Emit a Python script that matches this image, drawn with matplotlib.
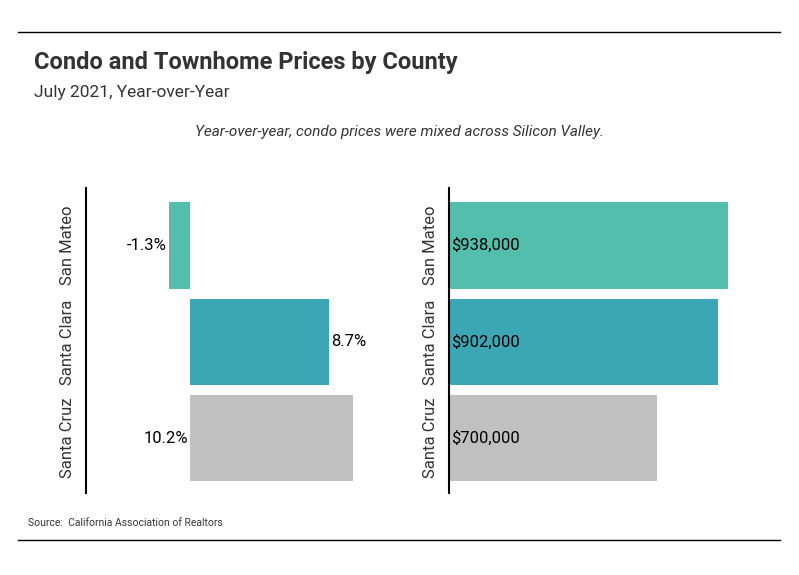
import matplotlib.pyplot as plt
from matplotlib.lines import Line2D

counties = ["San Mateo", "Santa Clara", "Santa Cruz"]
yoy_change = [-1.3, 8.7, 10.2]
median_price = [938000, 902000, 700000]
yoy_labels = ["-1.3%", "8.7%", "10.2%"]
price_labels = ["$938,000", "$902,000", "$700,000"]
colors = ["#52BEAB", "#3BA7B4", "#C0C0C0"]

plt.rcParams["font.family"] = ["Liberation Sans Narrow", "Roboto", "DejaVu Sans"]

W, H = 799, 575
fig = plt.figure(figsize=(W / 100, H / 100), dpi=100)

def frac(x0, y0, x1, y1):
    return [x0 / W, 1 - y1 / H, (x1 - x0) / W, (y1 - y0) / H]

ypos = [0, 1, 2]

# left panel: year-over-year change
ax1 = fig.add_axes(frac(86, 188, 390, 493))
ax1.barh(ypos, yoy_change, height=0.9, color=colors)
ax1.set_xlim(-6.5, 12.5)
ax1.set_ylim(2.57, -0.6)
for y, v, lab in zip(ypos, yoy_change, yoy_labels):
    if v < 0:
        ax1.text(v - 0.15, y, lab, ha="right", va="center", fontsize=12)
    elif y == 1:
        ax1.text(v + 0.15, y, lab, ha="left", va="center", fontsize=12)
    else:
        ax1.text(-0.1, y, lab, ha="right", va="center", fontsize=12)

# right panel: median price
ax2 = fig.add_axes(frac(449, 188, 770, 493))
ax2.barh(ypos, median_price, height=0.9, color=colors)
ax2.set_xlim(0, 1078000)
ax2.set_ylim(2.57, -0.6)
for y, v, lab in zip(ypos, median_price, price_labels):
    ax2.text(8000, y, lab, ha="left", va="center", fontsize=12)

for ax in (ax1, ax2):
    for s in ("top", "right", "bottom"):
        ax.spines[s].set_visible(False)
    ax.spines["left"].set_linewidth(1.5)
    ax.set_xticks([])
    ax.set_yticks(ypos)
    ax.set_yticklabels(counties, rotation=90, va="center", fontsize=12, color="#333333")
    ax.tick_params(axis="y", length=0, pad=8)

fig.add_artist(Line2D([18 / W, 780 / W], [1 - 32 / H, 1 - 32 / H], color="black", lw=1))
fig.add_artist(Line2D([18 / W, 780 / W], [1 - 540 / H, 1 - 540 / H], color="black", lw=1))

fig.text(34 / W, 1 - 63 / H, "Condo and Townhome Prices by County", fontsize=17,
         fontweight="bold", color="#333333", va="center")
fig.text(34 / W, 1 - 92 / H, "July 2021, Year-over-Year", fontsize=12.5,
         color="#333333", va="center")
fig.text(399 / W, 1 - 132 / H, "Year-over-year, condo prices were mixed across Silicon Valley.",
         fontsize=11, style="italic", color="#333333", ha="center", va="center")
fig.text(28 / W, 1 - 523 / H, "Source:  California Association of Realtors", fontsize=7.5,
         color="#333333", va="center")

fig.savefig("out.png", dpi=100)
